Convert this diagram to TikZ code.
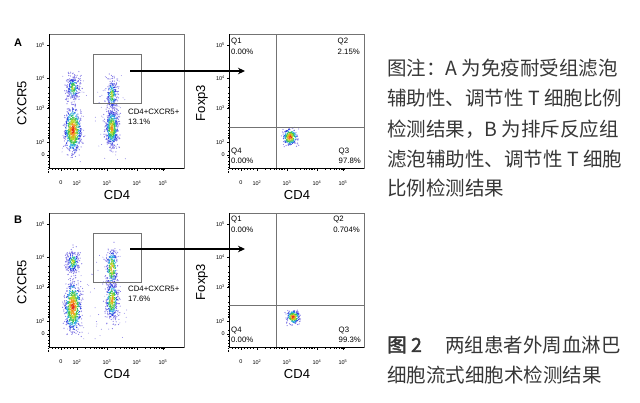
\documentclass[tikz,border=0pt]{standalone}
\usepackage{fontspec}
\setmainfont{Liberation Sans}
\newfontfamily\cjk{Noto Sans CJK SC}
\newfontfamily\cjkb[FakeBold=2]{Noto Sans CJK SC}
\usetikzlibrary{arrows.meta}
\definecolor{d1}{RGB}{230,40,25}
\definecolor{d2}{RGB}{245,150,30}
\definecolor{d3}{RGB}{190,215,40}
\definecolor{d4}{RGB}{60,195,80}
\definecolor{d5}{RGB}{40,170,225}
\definecolor{d6}{RGB}{45,60,225}
\definecolor{d7}{RGB}{130,120,230}
\definecolor{capc}{RGB}{55,55,55}
\tikzset{
 framec/.style={draw=black!55,line width=0.8pt},
 ticklab/.style={font=\fontsize{5.5}{6}\selectfont, inner sep=0pt},
 axlab/.style={font=\fontsize{13}{14}\selectfont, inner sep=0pt},
 qlab/.style={font=\fontsize{7.8}{10.5}\selectfont, inner sep=0pt, align=left},
 gatebox/.style={draw=black!55, line width=0.8pt, minimum width=48pt, minimum height=49pt, inner sep=0pt},
 captext/.style={font=\cjk\fontsize{19.5}{20}\selectfont, text=capc, inner sep=0pt, anchor=west},
 arr/.style={-{Stealth[length=7pt,width=6.5pt]}, line width=1.4pt},
 panlab/.style={font=\bfseries\fontsize{11}{12}\selectfont, inner sep=0pt},
 qline/.style={draw=black!55, line width=0.8pt},
}
\newcommand\dotblob[6]{%
 \foreach \i in {1,...,#5}{%
  \pgfmathsetmacro\u{rand+rand+rand}%
  \pgfmathsetmacro\v{rand+rand+rand}%
  \pgfmathtruncatemacro\c{min(7,max(1,floor(1+#6+3*sqrt(\u*\u+\v*\v)+0.35*rand)))}%
  \fill[d\c] ({#1+#3*(\u)},{#2+#4*(\v)}) circle[radius=0.6pt];
 }}
\newcommand\sparse[5]{%
 \foreach \i in {1,...,#5}{%
  \pgfmathsetmacro\u{rnd}\pgfmathsetmacro\v{rnd}%
  \fill[d7] ({#1+#3*(\u)},{#2+#4*(\v)}) circle[radius=0.45pt];}}
\newcommand\fcmaxes[4]{%
 \begin{scope}[shift={(#2,#3)}]
  \draw[framec] (0,0) rectangle (135,134);
  \draw[black,line width=0.6pt] (0,0) -- (0,134) -- (135,134);
  \foreach \yy/\lab/\k in {11/10\textsuperscript{5}/a,44/10\textsuperscript{4}/b,74/10\textsuperscript{3}/c,108/10\textsuperscript{2}/d,121/0/e}{%
    \draw[black,line width=0.5pt] (-2,\yy) -- (0,\yy);
    \node[ticklab,anchor=east] (#1y\k) at (-4,\yy) {\lab};}
  \foreach \d in {44,74,108}{\foreach \k in {2,...,9}{%
    \draw[black,line width=0.3pt] (0,{\d+32*ln(\k)/ln(10)}) -- (-1,{\d+32*ln(\k)/ln(10)});}}
  \foreach \xx/\lab/\k in {12/0/a,28/10\textsuperscript{2}/b,58/10\textsuperscript{3}/c,88/10\textsuperscript{4}/d,114/10\textsuperscript{5}/e}{%
    \draw[black,line width=0.5pt] (\xx,134) -- (\xx,136.5);
    \node[ticklab] (#1x\k) at (\xx,149) {\lab};}
  \foreach \d in {28,58,88}{\foreach \k in {2,...,9}{%
    \draw[black,line width=0.3pt] ({\d+28*ln(\k)/ln(10)},134) -- ({\d+28*ln(\k)/ln(10)},135.5);}}
  \foreach \xx in {3,6,9,15,18,21,24}{\draw[black,line width=0.3pt] (\xx,134) -- (\xx,135.5);}
  \node[axlab,rotate=90] (#1yl) at (-27,69) {#4};
  \node[axlab] (#1xl) at (68,161) {CD4};
 \end{scope}}
\begin{document}
\begin{tikzpicture}[x=1pt,y=-1pt]
\useasboundingbox (0,0) rectangle (640,402);
\fill[white] (0,0) rectangle (640,402);
\pgfmathsetseed{11}
% ---------------- panel A
\node[panlab] (labA) at (18,43) {A};
\begin{scope}
 \clip (49,34) rectangle (184,168);
 \sparse{62}{75}{65}{88}{80}
 \dotblob{73}{88}{3.5}{7}{240}{2}
 \dotblob{73}{130}{4}{11}{700}{0}
 \dotblob{112}{95}{3}{9}{250}{2}
 \dotblob{112}{128}{3.3}{10}{550}{1}
\end{scope}
\fcmaxes{al}{49}{34}{CXCR5}
\node[gatebox] (gateA) at (117,78.5) {};
\node[qlab,anchor=north west] (popA) at (128,108.5) {CD4+CXCR5+\\13.1\%};
\begin{scope}
 \clip (229,34) rectangle (364,168);
 \dotblob{290}{137}{3.5}{4}{280}{0}
\end{scope}
\fcmaxes{ar}{229}{34}{Foxp3}
\draw[qline] (276,34) -- (276,168);
\draw[qline] (229,127) -- (364,127);
\node[qlab,anchor=north west] (q1A) at (231,38) {Q1\\0.00\%};
\node[qlab,anchor=north east] (q2A) at (360,38) {Q2\\2.15\%};
\node[qlab,anchor=south west] (q4A) at (231,164) {Q4\\0.00\%};
\node[qlab,anchor=south east] (q3A) at (361,164) {Q3\\97.8\%};
\coordinate (aS) at (130,71);
\coordinate (aE) at (245,71);
\draw[arr] (aS) -- (aE);
% ---------------- panel B
\node[panlab] (labB) at (18,220) {B};
\begin{scope}
 \clip (49,213) rectangle (184,347);
 \sparse{62}{250}{65}{90}{70}
 \dotblob{73}{262}{3.5}{6.5}{240}{2}
 \dotblob{73}{307}{4}{12}{700}{0}
 \dotblob{112}{268}{3}{10}{280}{1}
 \dotblob{112}{300}{3.3}{10}{400}{1}
\end{scope}
\fcmaxes{bl}{49}{213}{CXCR5}
\node[gatebox] (gateB) at (117,257.5) {};
\node[qlab,anchor=north west] (popB) at (128,285.5) {CD4+CXCR5+\\17.6\%};
\begin{scope}
 \clip (229,213) rectangle (364,347);
 \dotblob{293}{317}{3.2}{3.2}{240}{0}
\end{scope}
\fcmaxes{br}{229}{213}{Foxp3}
\draw[qline] (276,213) -- (276,347);
\draw[qline] (229,305) -- (364,305);
\node[qlab,anchor=north west] (q1B) at (231,216) {Q1\\0.00\%};
\node[qlab,anchor=north east] (q2B) at (360,216) {Q2\\0.704\%};
\node[qlab,anchor=south west] (q4B) at (231,343) {Q4\\0.00\%};
\node[qlab,anchor=south east] (q3B) at (361,343) {Q3\\99.3\%};
\coordinate (bS) at (130,249);
\coordinate (bE) at (245,249);
\draw[arr] (bS) -- (bE);
% ---------------- captions
\node[captext] (c1) at (387,68) {图注：A 为免疫耐受组滤泡};
\node[captext] (c2) at (387,98) {辅助性、调节性 T 细胞比例};
\node[captext] (c3) at (387,129) {检测结果，B 为排斥反应组};
\node[captext] (c4) at (387,159) {滤泡辅助性、调节性 T 细胞};
\node[captext] (c5) at (387,188) {比例检测结果};
\node[captext,font=\cjkb\fontsize{19.5}{20}\selectfont] (c6) at (387,345) {图 2};
\node[captext] (c7) at (445,345) {两组患者外周血淋巴};
\node[captext] (c8) at (387,375) {细胞流式细胞术检测结果};
\end{tikzpicture}
\end{document}
